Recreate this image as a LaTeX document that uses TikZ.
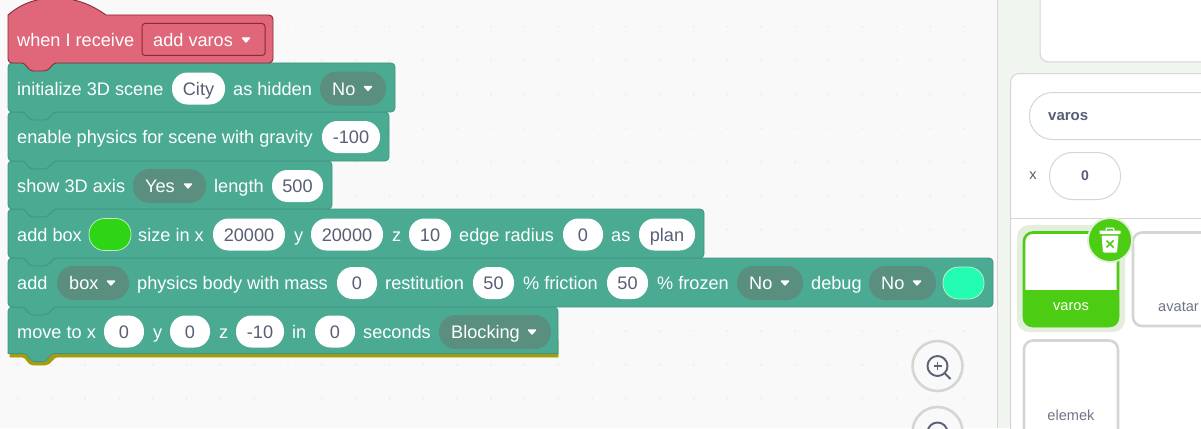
\documentclass[tikz,border=0pt]{standalone}
\usepackage{fontspec}
\setmainfont{Liberation Sans}
\definecolor{bg}{HTML}{F9F9F9}
\definecolor{side}{HTML}{F0F5F0}
\definecolor{edge}{HTML}{D3D6D3}
\definecolor{blockc}{HTML}{4AAB92}
\definecolor{blockl}{HTML}{3F9380}
\definecolor{dropc}{HTML}{5A8F80}
\definecolor{hatc}{HTML}{E0667A}
\definecolor{hatl}{HTML}{8A2A3A}
\definecolor{fieldt}{HTML}{575E75}
\definecolor{olive}{HTML}{A39C10}
\definecolor{gsel}{HTML}{4CCD14}
\definecolor{halo}{HTML}{E3EEDC}
\definecolor{gdot}{HTML}{EDEDED}
\definecolor{pillg}{HTML}{2ED514}
\definecolor{pillc}{HTML}{22FDB3}
\tikzset{
 x=1pt,y=-1pt,
 lab/.style={anchor=west,inner sep=0pt,text=white,font=\fontsize{18.15}{18}\selectfont,text height=13pt,text depth=0pt},
 pillt/.style={inner sep=0pt,text=fieldt,fill=white,font=\fontsize{18.15}{18}\selectfont,text height=13pt,text depth=0pt,minimum height=32pt,rounded corners=15.5pt},
 dropb/.style={inner sep=0pt,fill=dropc,minimum height=34pt,rounded corners=16.5pt},
 colp/.style={inner sep=0pt,draw=white!75!pillg,line width=.7pt,minimum height=32pt,rounded corners=15.5pt},
 blk/.style={fill=blockc,draw=blockl,line width=.8pt,line join=round},
 tri/.style={fill=white,draw=white,line width=1.4pt,line join=round},
 cardb/.style={fill=white,draw=edge,line width=2.6pt,rounded corners=9pt},
 ui/.style={fill=white,draw=edge,line width=1pt},
 uit/.style={inner sep=0pt,font=\fontsize{14.6}{14}\selectfont,text=fieldt},
}
% #1 x right, #2 y top, #3 y bottom : block with tab
\newcommand{\blockshape}[3]{%
 \path[blk] (8,#2+4) arc[start angle=180,end angle=270,radius=4] -- (#1-4,#2) arc[start angle=-90,end angle=0,radius=4]
  -- (#1,#3-4) arc[start angle=0,end angle=90,radius=4] -- (56,#3)
  .. controls (52,#3) and (50,#3+8) .. (44,#3+8) -- (33,#3+8) .. controls (28,#3+8) and (26,#3) .. (22,#3) -- (12,#3)
  arc[start angle=90,end angle=180,radius=4] -- cycle;}
\newcommand{\lab}[4]{\node[lab] (#1) at (#2,#3) {#4};}
\newcommand{\pill}[5]{\node[pillt,minimum width=#3-#2] (#1) at ({(#2+#3)/2},#4) {#5};}
% name, x0, x1, y, text, tri x
\newcommand{\dropd}[6]{%
 \node[dropb,minimum width=#3-#2] (#1) at ({(#2+#3)/2},#4) {};
 \node[lab] (#1t) at (#2+12,#4) {#5};
 \path[tri] (#6-3.5,#4-2) -- (#6+3.5,#4-2) -- (#6,#4+2) -- cycle;}
\newcommand{\colpill}[5]{\node[colp,fill=#5,minimum width=#3-#2] (#1) at ({(#2+#3)/2},#4) {};}
\begin{document}
\begin{tikzpicture}
\useasboundingbox (0,0) rectangle (1201,428);
\fill[bg] (0,0) rectangle (1201,428);
% dot grid
\foreach \i in {0,...,28}{\foreach \j in {0,...,12}{
  \path[fill=gdot] ({17.6+33.8*\i},{-7+33.8*\j}) circle[radius=1.1];}}
% side panel
\fill[side] (997,0) rectangle (1201,428);
\draw[edge,line width=1pt] (997.5,0) -- (997.5,428);
\path[ui,rounded corners=9pt] (1040,-12) -- (1040,62) -- (1215,62) -- (1215,-12);
\path[ui,rounded corners=9pt] (1010.5,440) -- (1010.5,73.5) -- (1215,73.5) -- (1215,440);
\draw[edge,line width=1pt] (1010.5,218.5) -- (1201,218.5);
\path[ui,rounded corners=23pt] (1215,92.5) -- (1029.5,92.5) -- (1029.5,139.5) -- (1215,139.5);
\node[uit,anchor=west,font=\fontsize{15}{14}\selectfont\bfseries] (varosf) at (1048,117) {varos};
\node[uit] (xl) at (1033,176) {x};
\node[ui,rounded corners=23pt,minimum width=71pt,minimum height=47pt,inner sep=0pt,font=\fontsize{14}{14}\selectfont\bfseries,text=fieldt] (xf) at (1085,176) {0};
% cards
\path[fill=halo,rounded corners=12pt] (1017,225) rectangle (1125,332);
\path[fill=white,draw=gsel,line width=2.6pt,rounded corners=9pt] (1024,232.5) rectangle (1118,326);
\path[fill=gsel,rounded corners=9pt] (1023,290) -- (1119,290) -- (1119,327) -- (1023,327) -- cycle;
\fill[gsel] (1023,290) rectangle (1119,300);
\node[uit,text=white] (varosc) at (1071,307) {varos};
\path[cardb] (1215,232.5) -- (1133,232.5) -- (1133,326) -- (1215,326);
\node[uit,anchor=west,text=fieldt!85] (avatar) at (1158,307) {avatar};
\path[cardb] (1024,445) -- (1024,340.5) -- (1118,340.5) -- (1118,445);
\node[uit,text=fieldt!85] (elemek) at (1071,415) {elemek};
% trash
\fill[halo] (1110,240) circle[radius=23];
\fill[gsel] (1110,240) circle[radius=21];
\fill[white,rounded corners=.6pt] (1099.5,230.5) rectangle (1120.5,234);
\draw[white,line width=1.3pt] (1106,230.5) -- (1106.5,228.2) -- (1113.5,228.2) -- (1114,230.5);
\fill[white,rounded corners=1pt] (1101.5,235.5) -- (1118.5,235.5) -- (1117,252.5) -- (1103,252.5) -- cycle;
\draw[gsel,line width=1.6pt] (1106.5,240.5) -- (1113.5,247.5) (1113.5,240.5) -- (1106.5,247.5);
% zoom buttons
\path[fill=bg,draw=edge,line width=2.6pt] (937.5,366) circle[radius=25];
\path[fill=bg,draw=edge,line width=2.6pt] (937.5,432) circle[radius=25];
\draw[fieldt!90!gray,line width=1.9pt] (937.5,366) circle[radius=10];
\draw[fieldt!90!gray,line width=2pt] (945,373.5) -- (950.5,379);
\draw[fieldt!90!gray,line width=1.5pt] (933.5,366) -- (941.5,366) (937.5,362) -- (937.5,370);
\draw[fieldt!90!gray,line width=1.9pt] (937.5,432.5) circle[radius=10];
% olive bottom
\path[fill=olive,draw=olive,line width=.6pt,line join=round] (10,340) -- (558,340) -- (558,357) -- (57,357) .. controls (53,357) and (51,365) .. (45,365) -- (33,365) .. controls (27,365) and (27,357) .. (22,357) -- (10,357) -- cycle;
% blocks bottom-up
\path[fill=blockc,draw=blockl,line width=.6pt] (8,311) arc[start angle=180,end angle=270,radius=4] -- (554,307) arc[start angle=-90,end angle=0,radius=4] -- (558,353.5) -- (53,353.5) .. controls (50,353.5) and (48,361.5) .. (44,361.5) -- (34,361.5) .. controls (30,361.5) and (28,353.5) .. (24,353.5) -- (8,353.5) -- cycle;
\blockshape{993}{258}{307}
\blockshape{704}{209}{258}
\blockshape{332}{161}{209}
\blockshape{389}{112}{161}
\blockshape{395}{63}{112}
% hat
\path[fill=hatc,draw=hatl,line width=.9pt,line join=round] (8,15) .. controls (22,3) and (37,-2) .. (56,-2) .. controls (76,-2) and (92,5) .. (106,15) -- (269,15) arc[start angle=-90,end angle=0,radius=4] -- (273,59) arc[start angle=0,end angle=90,radius=4] -- (56,63) .. controls (52,63) and (50,71) .. (44,71) -- (33,71) .. controls (28,71) and (26,63) .. (22,63) -- (12,63) arc[start angle=90,end angle=180,radius=4] -- cycle;
\lab{h1}{17}{40}{when I receive}
\node[fill=hatc,draw=hatl,line width=1pt,rounded corners=3pt,inner sep=0pt,minimum width=123pt,minimum height=32pt] (h2b) at (203.5,39.5) {};
\lab{h2}{153}{40}{add varos}
\path[tri] (242.5,38) -- (249.5,38) -- (246,42) -- cycle;
% row 2
\lab{a1}{17}{88.5}{initialize 3D scene}
\pill{a2}{172}{225}{88.5}{City}
\lab{a3}{233}{88.5}{as hidden}
\dropd{a4}{320}{386}{88.5}{No}{368}
% row 3
\lab{b1}{17}{137}{enable physics for scene with gravity}
\pill{b2}{322}{380}{137}{-100}
% row 4
\lab{c1}{17}{186}{show 3D axis}
\dropd{c2}{133}{206}{186}{Yes}{188}
\lab{c3}{214}{186}{length}
\pill{c4}{272}{323}{186}{500}
% row 5
\lab{d1}{17}{235}{add box}
\colpill{d2}{89}{131}{234.5}{pillg}
\lab{d3}{138}{235}{size in x}
\pill{d4}{213}{285}{234.5}{20000}
\lab{d5}{294}{235}{y}
\pill{d6}{311}{383}{234.5}{20000}
\lab{d7}{392}{235}{z}
\pill{d8}{409}{451}{234.5}{10}
\lab{d9}{459}{235}{edge radius}
\pill{d10}{563}{603}{234.5}{0}
\lab{d11}{611}{235}{as}
\pill{d12}{639}{695}{234.5}{plan}
% row 6
\lab{e1}{17}{283}{add}
\dropd{e2}{57}{129}{283}{box}{111}
\lab{e3}{137}{283}{physics body with mass}
\pill{e4}{337}{377}{283}{0}
\lab{e5}{385}{283}{restitution}
\pill{e6}{473}{514}{283}{50}
\lab{e7}{523}{283}{\% friction}
\pill{e8}{607}{648}{283}{50}
\lab{e9}{657}{283}{\% frozen}
\dropd{e10}{737}{803}{283}{No}{785}
\lab{e11}{811}{283}{debug}
\dropd{e12}{869}{936}{283}{No}{917}
\colpill{e13}{943}{984}{283}{pillc}
% row 7
\lab{f1}{17}{332}{move to x}
\pill{f2}{104}{144}{331.5}{0}
\lab{f3}{153}{332}{y}
\pill{f4}{170}{210}{331.5}{0}
\lab{f5}{219}{332}{z}
\pill{f6}{236}{284}{331.5}{-10}
\lab{f7}{292}{332}{in}
\pill{f8}{315}{355}{331.5}{0}
\lab{f9}{363}{332}{seconds}
\dropd{f10}{439}{551}{332}{Blocking}{532}
\end{tikzpicture}
\end{document}
